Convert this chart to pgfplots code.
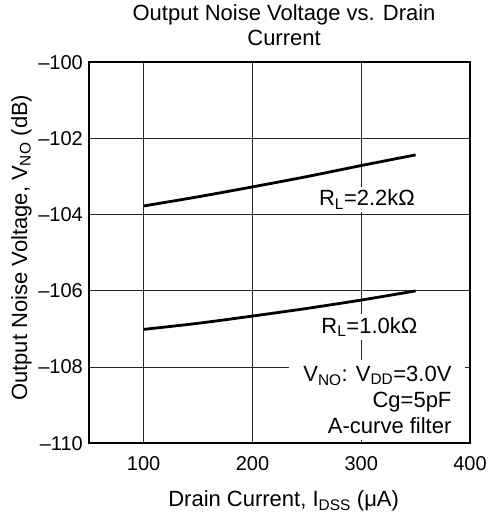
\documentclass[border=0pt]{standalone}
\usepackage{fontspec}
\setmainfont{Liberation Sans}
\usepackage{pgfplots}
\pgfplotsset{compat=1.18}
\begin{document}
\begin{tikzpicture}
\begin{axis}[
  at={(0,0)}, anchor=south west,
  scale only axis, width=380.7pt, height=381pt,
  xmin=50, xmax=400, ymin=-110, ymax=-100,
  xtick={100,200,300,400},
  ytick={-110,-108,-106,-104,-102,-100},
  yticklabels={\textendash110,\textendash108,\textendash106,\textendash104,\textendash102,\textendash100},
  xticklabels={100,200,300,400},
  major tick length=0pt,
  grid=major,
  major grid style={black!85, line width=1pt},
  axis line style={black, line width=1.8pt},
  clip=false,
  ticklabel style={font=\fontsize{20}{24}\selectfont},
  xticklabel style={anchor=base, yshift=-26.7pt},
  yticklabel style={anchor=east, inner sep=0pt, xshift=-6.3pt},
  xlabel={Drain Current, I\textsubscript{DSS} (μA)},
  xlabel style={at={(axis description cs:0.5105,-0.1664)}, anchor=base, inner sep=0pt, font=\fontsize{22}{26}\selectfont},
  ylabel={Output Noise Voltage, V\textsubscript{NO} (dB)},
  ylabel style={at={(axis description cs:-0.1636,0.5131)}, rotate=0, anchor=base, inner sep=0pt, font=\fontsize{22}{26}\selectfont},
  title={Output Noise Voltage vs. Drain\\Current},
  title style={at={(axis description cs:0.5116,1.027)}, anchor=south, align=center, inner sep=0pt, font=\fontsize{22}{25}\selectfont},
]
\addplot[black, line width=2.8pt, smooth] coordinates {
  (100,-103.77) (150,-103.53) (200,-103.27) (250,-103.00) (300,-102.71) (350,-102.43)};
\addplot[black, line width=2.8pt, smooth] coordinates {
  (100,-107.01) (150,-106.85) (200,-106.66) (250,-106.46) (300,-106.24) (350,-106.00)};
\node[anchor=base east, fill=white, inner sep=3pt, font=\fontsize{22}{26}\selectfont] at (axis cs:352.3,-103.77) {R\textsubscript{L}=2.2kΩ};
\node[anchor=base east, fill=white, inner sep=3pt, font=\fontsize{22}{26}\selectfont] at (axis cs:354.5,-107.11) {R\textsubscript{L}=1.0kΩ};
\node[anchor=north east, fill=white, align=right, inner xsep=14pt, inner ysep=6pt, font=\fontsize{22}{26}\selectfont] at (axis cs:396,-107.81) {V\textsubscript{NO}: V\textsubscript{DD}=3.0V\\Cg=5pF\\A-curve filter};
\end{axis}
\pgfresetboundingbox
\useasboundingbox (-89.3pt,-70.7pt) rectangle (398.7pt,443.3pt);
\end{tikzpicture}
\end{document}
